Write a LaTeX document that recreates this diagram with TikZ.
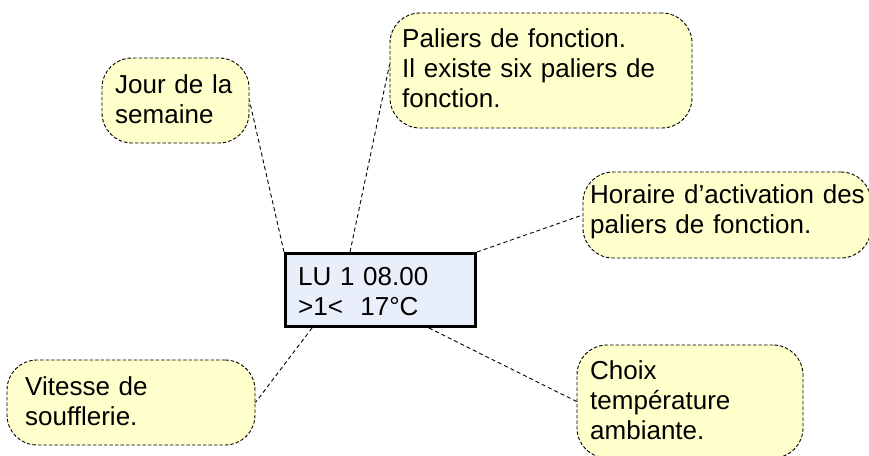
\documentclass[tikz,border=0pt]{standalone}
\usepackage{fontspec}
\setmainfont{Liberation Sans}
\definecolor{notefill}{RGB}{255,255,204}
\definecolor{lcdfill}{RGB}{232,238,250}
\tikzset{
  note/.style={draw=black, dash pattern=on 3.5pt off 2pt, line width=0.9pt,
    fill=notefill, rounded corners=30pt, inner sep=0pt},
  lcdbox/.style={draw=black, line width=3pt, fill=lcdfill, inner sep=0pt},
  label text/.style={anchor=base west, inner sep=0pt, text width=320pt,
    align=left, font=\fontsize{26}{30}\selectfont},
  leader/.style={draw=black, dash pattern=on 4pt off 3pt, line width=0.9pt}
}
\begin{document}
\begin{tikzpicture}[x=1pt, y=-1pt]
  \clip (0,0) rectangle (869,455);

  % display and callout frames
  \node[lcdbox, minimum width=190pt, minimum height=73pt] (lcd) at (380.5,290) {};
  \node[note, minimum width=147pt, minimum height=85pt]  (jour)    at (175.5,100.5) {};
  \node[note, minimum width=302pt, minimum height=115pt] (paliers) at (541,70.5) {};
  \node[note, minimum width=288pt, minimum height=86pt]  (horaire) at (727,215) {};
  \node[note, minimum width=248pt, minimum height=85pt]  (vitesse) at (131,402.5) {};
  \node[note, minimum width=226pt, minimum height=113pt] (choix)   at (690,401.5) {};

  % leader lines from the display to the callouts
  \draw[leader] (lcd.north west) -- (jour.east);
  \draw[leader] ([xshift=66pt]lcd.north west) -- ([yshift=6pt]paliers.west);
  \draw[leader] (lcd.north east) -- (horaire.west);
  \draw[leader] ([xshift=28pt]lcd.south west) -- (vitesse.east);
  \draw[leader] ([xshift=145pt]lcd.south west) -- (choix.west);

  % texts
  \node[label text] (lcdtxt) at (298,285) {LU 1 08.00\\>1<\ \ 17°C};
  \node[label text] (jourtxt) at (115,93) {Jour de la\\semaine};
  \node[label text] (palierstxt) at (402,47) {Paliers de fonction.\\Il existe six paliers de\\fonction.};
  \node[label text] (horairetxt) at (590,203) {Horaire d’activation des\\paliers de fonction.};
  \node[label text] (vitessetxt) at (25,395) {Vitesse de\\soufflerie.};
  \node[label text] (choixtxt) at (590,379) {Choix\\température\\ambiante.};
\end{tikzpicture}
\end{document}
